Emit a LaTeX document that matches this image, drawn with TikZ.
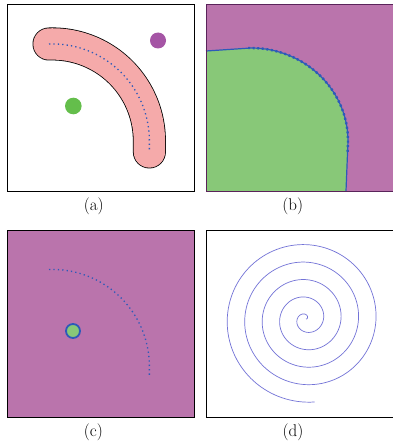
\documentclass[tikz,border=0pt]{standalone}
\usepackage{fontspec}
\definecolor{pinkfill}{RGB}{245,170,170}
\definecolor{dotpurple}{RGB}{165,85,165}
\definecolor{dotgreen}{RGB}{100,190,75}
\definecolor{bgpurple}{RGB}{186,116,172}
\definecolor{regiongreen}{RGB}{136,200,120}
\definecolor{lineblue}{RGB}{45,90,185}
\definecolor{spiralblue}{RGB}{115,115,215}
\definecolor{borderpurple}{RGB}{90,35,90}
\begin{document}
\begin{tikzpicture}[x=1pt,y=-1pt,
  frame/.style={line width=1pt, draw=black},
  centerline/.style={draw=lineblue, line width=1.3pt, dash pattern=on 1.3pt off 3.1pt},
  lab/.style={anchor=base, font=\fontsize{17}{20}\selectfont, inner sep=0pt}]
\useasboundingbox (0,0) rectangle (392,444);

% panel (a)
\begin{scope}[shift={(7,5)}]
  \fill[white] (0,0) rectangle (187,186);
  \draw[line width=33pt, black, line cap=round] (42,39) arc[start angle=-92, end angle=0, radius=97] -- ++(0,11);
  \draw[line width=31.4pt, pinkfill, line cap=round] (42,39) arc[start angle=-92, end angle=0, radius=97] -- ++(0,11);
  \draw[centerline] (42,39) arc[start angle=-92, end angle=0, radius=97] -- ++(0,11);
  \fill[dotpurple] (151,35.5) circle[radius=8];
  \fill[dotgreen] (66.3,101) circle[radius=8.3];
  \draw[frame] (0,0) rectangle (187,186);
\end{scope}

% panel (b)
\begin{scope}[shift={(206,5)}]
  \fill[bgpurple] (0,0) rectangle (188,186);
  \fill[regiongreen] (0,46) -- (45,43) arc[start angle=-90, end angle=0, x radius=97, y radius=93] -- (140,186) -- (0,186) -- cycle;
  \draw[lineblue, line width=1.2pt] (0,46) -- (45,43) arc[start angle=-90, end angle=0, x radius=97, y radius=93] -- (140,186);
  \draw[lineblue, line width=2.4pt, dash pattern=on 2pt off 2.6pt] (42,43) -- (45,43) arc[start angle=-90, end angle=0, x radius=97, y radius=93] -- (141.6,148);
  \draw[borderpurple, line width=1pt] (0,0) rectangle (188,186);
\end{scope}

% panel (c)
\begin{scope}[shift={(7,230)}]
  \fill[bgpurple] (0,0) rectangle (187,187);
  \draw[centerline] (42,39.5) arc[start angle=-92, end angle=0, radius=97] -- ++(0,11);
  \filldraw[fill=regiongreen, draw=lineblue, line width=1.8pt] (66,101) circle[radius=7];
  \draw[frame] (0,0) rectangle (187,187);
\end{scope}

% panel (d)
\begin{scope}[shift={(206,230)}]
  \fill[white] (0,0) rectangle (188,187);
  \draw[spiralblue, line width=0.7pt] plot[domain=0:1716, samples=600] ({100+0.048611*\x*cos(\x)}, {89-0.048611*\x*sin(\x)});
  \draw[frame] (0,0) rectangle (188,187);
\end{scope}

\node[lab] (la) at (93.7,210.7) {(a)};
\node[lab] (lb) at (292.7,210.7) {(b)};
\node[lab] (lc) at (93.3,436) {(c)};
\node[lab] (ld) at (293,436) {(d)};
\end{tikzpicture}
\end{document}
